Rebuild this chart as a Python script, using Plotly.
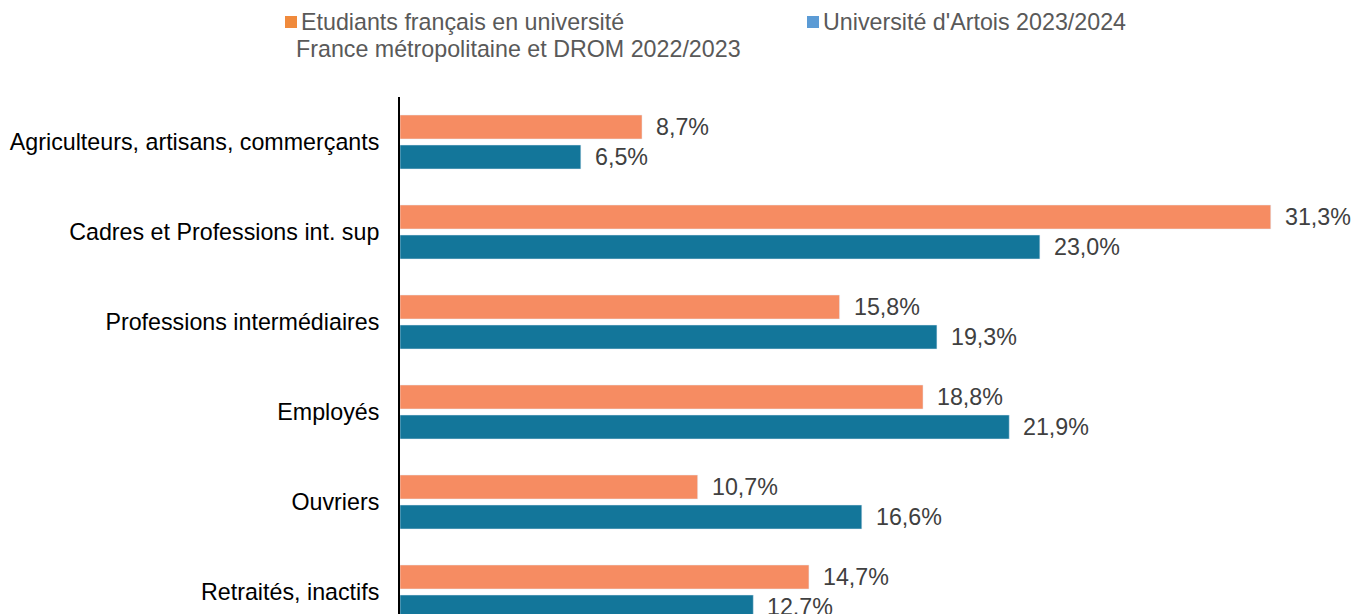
import plotly.graph_objects as go

categories = [
    "Agriculteurs, artisans, commerçants",
    "Cadres et Professions int. sup",
    "Professions intermédiaires",
    "Employés",
    "Ouvriers",
    "Retraités, inactifs",
]
france_values = [8.7, 31.3, 15.8, 18.8, 10.7, 14.7]
artois_values = [6.5, 23.0, 19.3, 21.9, 16.6, 12.7]
series_names = [
    "Etudiants français en université",
    "France métropolitaine et DROM 2022/2023",
    "Université d'Artois 2023/2024",
]

BAR_ORANGE = "#F68C62"
BAR_BLUE = "#13769A"
LEG_ORANGE = "#F08A3C"
LEG_BLUE = "#5B9BD5"
FONT = "Liberation Sans, Arial, sans-serif"
FS = 23.25

W, H = 1354, 614
ML, MT = 400, 97
PW, PH = W - ML, H - MT

fig = go.Figure()
fig.add_trace(go.Bar(y=categories, x=france_values, orientation="h",
                     marker=dict(color=BAR_ORANGE), name=series_names[0] + " " + series_names[1],
                     showlegend=False))
fig.add_trace(go.Bar(y=categories, x=artois_values, orientation="h",
                     marker=dict(color=BAR_BLUE), name=series_names[2],
                     showlegend=False))

def fmt(v):
    return f"{v:.1f}".replace(".", ",") + "%"

annotations = []
for c, v in zip(categories, france_values):
    annotations.append(dict(x=v, y=c, xref="x", yref="y", text=fmt(v), showarrow=False,
                            xanchor="left", yanchor="middle", xshift=12, yshift=15,
                            font=dict(family=FONT, size=FS, color="#404040")))
for c, v in zip(categories, artois_values):
    annotations.append(dict(x=v, y=c, xref="x", yref="y", text=fmt(v), showarrow=False,
                            xanchor="left", yanchor="middle", xshift=12, yshift=-15,
                            font=dict(family=FONT, size=FS, color="#404040")))

def px_x(p):
    return (p - ML) / PW

def px_y(p):
    return 1 - (p - MT) / PH

# custom legend
legend_font = dict(family=FONT, size=FS, color="#595959")
annotations += [
    dict(x=px_x(299), y=px_y(22), xref="paper", yref="paper", text=series_names[0],
         showarrow=False, xanchor="left", yanchor="middle", font=legend_font),
    dict(x=px_x(294), y=px_y(49), xref="paper", yref="paper", text=series_names[1],
         showarrow=False, xanchor="left", yanchor="middle", font=legend_font),
    dict(x=px_x(821), y=px_y(22), xref="paper", yref="paper", text=series_names[2],
         showarrow=False, xanchor="left", yanchor="middle", font=legend_font),
]
shapes = [
    dict(type="rect", xref="paper", yref="paper", x0=px_x(285), x1=px_x(297),
         y0=px_y(28), y1=px_y(16), fillcolor=LEG_ORANGE, line=dict(width=0)),
    dict(type="rect", xref="paper", yref="paper", x0=px_x(807), x1=px_x(819),
         y0=px_y(28), y1=px_y(16), fillcolor=LEG_BLUE, line=dict(width=0)),
]

band = 90.0
fig.update_layout(
    width=W, height=H,
    margin=dict(l=ML, r=0, t=MT, b=0, pad=0),
    paper_bgcolor="white", plot_bgcolor="white",
    barmode="group", bargap=1/3, bargroupgap=0.2,
    showlegend=False,
    annotations=annotations, shapes=shapes,
    font=dict(family=FONT, size=FS, color="#000000"),
)
fig.update_xaxes(range=[0, PW / 27.82], visible=False, showgrid=False, zeroline=False)
fig.update_yaxes(
    type="category", categoryorder="array", categoryarray=categories,
    range=[-0.5 + PH / band, -0.5],
    showline=True, linecolor="#000000", linewidth=2,
    showgrid=False, zeroline=False, ticks="",
    ticklabelstandoff=14,
    tickfont=dict(family=FONT, size=FS, color="#000000"),
)

fig.write_html("out.html",
               config={"displayModeBar": False},
               post_script="document.body.style.margin='0';document.body.style.overflow='hidden';")
